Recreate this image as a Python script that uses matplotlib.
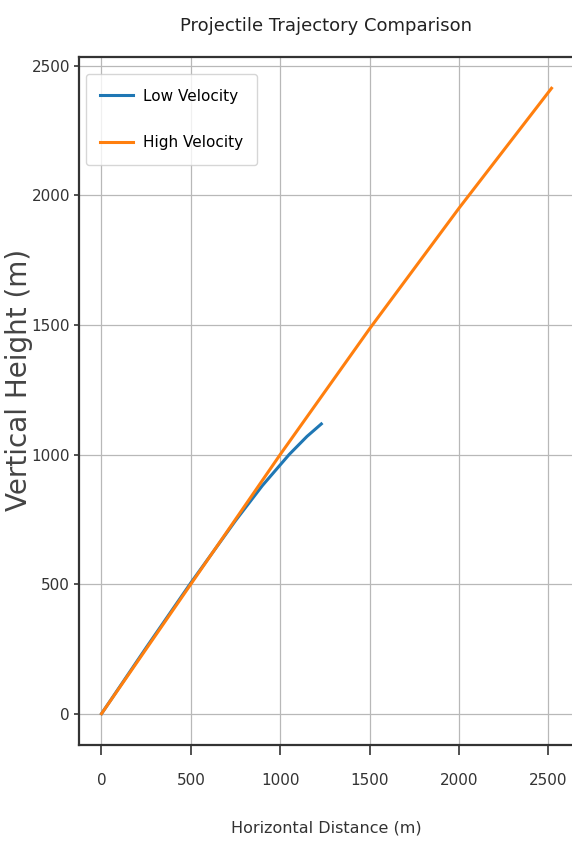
import matplotlib
matplotlib.use("Agg")
import matplotlib.pyplot as plt

# Werte
low_x = [0, 250, 500, 750, 900, 1050, 1150, 1230]
low_y = [0, 255, 505, 745, 880, 1000, 1070, 1118]
high_x = [0, 500, 1000, 1500, 2000, 2518]
high_y = [0, 500, 1000, 1485, 1950, 2413]
labels = ["Low Velocity", "High Velocity"]

plt.rcParams['font.family'] = ['DejaVu Sans']

fig = plt.figure(figsize=(5.72, 8.42), dpi=100)
ax = fig.add_axes([79 / 572, 97 / 842, 495 / 572, 688 / 842])

ax.plot(low_x, low_y, color='#1f77b4', linewidth=2.2, label=labels[0])
ax.plot(high_x, high_y, color='#ff7f0e', linewidth=2.2, label=labels[1])

ax.set_title("Projectile Trajectory Comparison", fontsize=13, pad=19, color='#222222')
ax.set_xlabel("Horizontal Distance (m)", fontsize=11.5, labelpad=23, color='#333333')
ax.set_ylabel("Vertical Height (m)", fontsize=20, color='#444444')
ax.yaxis.set_label_coords(-0.092, 0.53)

ax.tick_params(axis='x', labelsize=11, length=7.5, pad=13, width=1.2, colors='#333333')
ax.tick_params(axis='y', labelsize=11, length=3.5, pad=3, width=1.2, colors='#333333')

ax.grid(True, color='#b8b8b8', linewidth=0.9)
for side in ['left', 'bottom', 'top']:
    ax.spines[side].set_linewidth(1.6)
    ax.spines[side].set_color('#333333')
ax.spines['right'].set_visible(False)

ax.legend(loc='upper left', bbox_to_anchor=(0.014, 0.975), borderaxespad=0,
          fontsize=11, handlelength=2.16, handletextpad=0.6,
          labelspacing=2.06, borderpad=0.95, framealpha=0.8)

fig.savefig("out.png", dpi=100)
